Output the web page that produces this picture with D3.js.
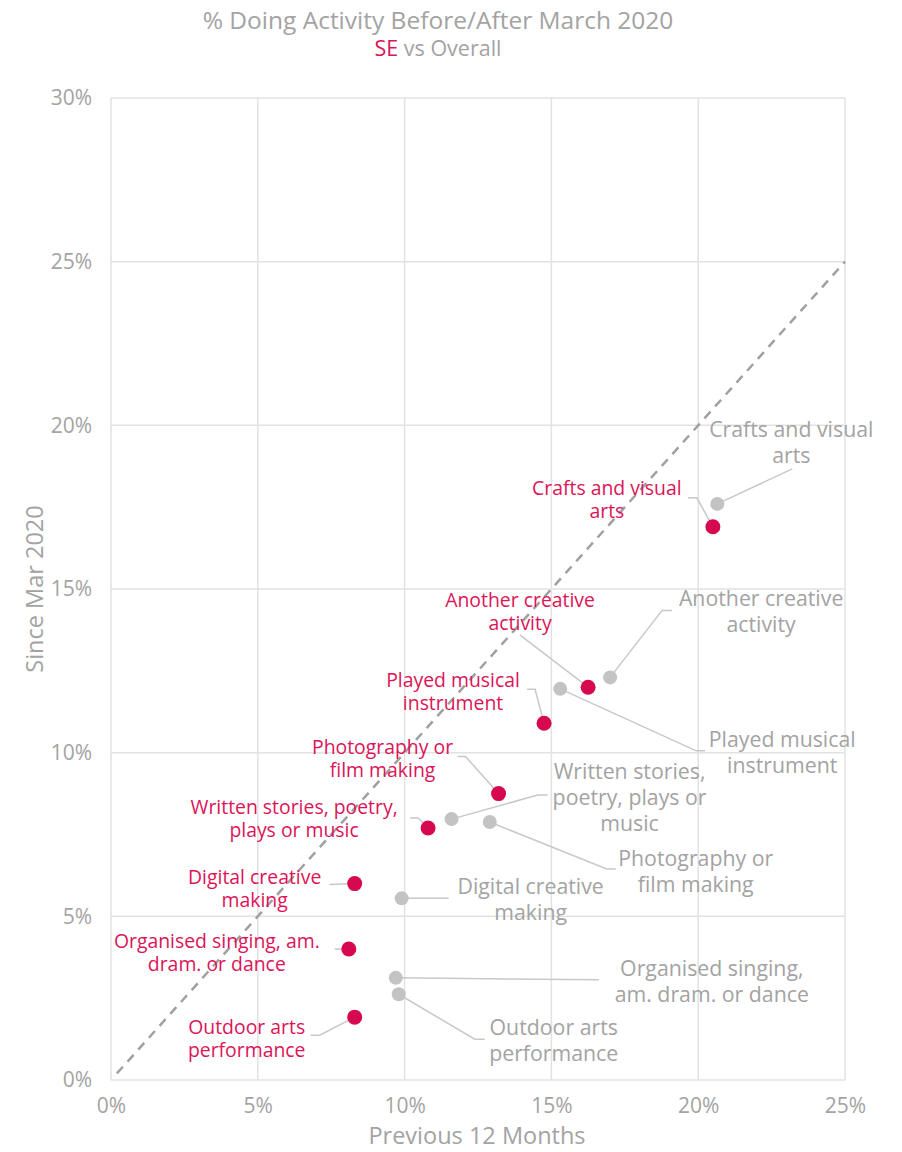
<!DOCTYPE html>
<html>
<head>
<meta charset="utf-8">
<script src="https://cdn.jsdelivr.net/npm/d3@7"></script>
<style>
  html, body { margin: 0; padding: 0; background: #fff; }
  svg { display: block; font-family: "Open Sans", sans-serif; }
</style>
</head>
<body>
<svg id="chart" width="902" height="1152"></svg>
<script>
// Activities (labels split into lines)
const activities = [
  "Crafts and visual arts",
  "Another creative activity",
  "Played musical instrument",
  "Photography or film making",
  "Written stories, poetry, plays or music",
  "Digital creative making",
  "Organised singing, am. dram. or dance",
  "Outdoor arts performance"
];
// SE: % previous 12 months, % since March 2020
const sePrev  = [20.5, 16.25, 14.75, 13.2, 10.8, 8.3, 8.1, 8.3];
const seSince = [16.9, 12.0, 10.9, 8.75, 7.7, 6.0, 4.0, 1.92];
// Overall
const allPrev  = [20.65, 17.0, 15.3, 11.6, 12.9, 9.9, 9.7, 9.8];
const allSince = [17.6, 12.3, 11.95, 7.97, 7.88, 5.55, 3.12, 2.62];

const seLines = [
  ["Crafts and visual", "arts"],
  ["Another creative", "activity"],
  ["Played musical", "instrument"],
  ["Photography or", "film making"],
  ["Written stories, poetry,", "plays or music"],
  ["Digital creative", "making"],
  ["Organised singing, am.", "dram. or dance"],
  ["Outdoor arts", "performance"]
];
const allLines = [
  ["Crafts and visual", "arts"],
  ["Another creative", "activity"],
  ["Played musical", "instrument"],
  ["Written stories,", "poetry, plays or", "music"],
  ["Photography or", "film making"],
  ["Digital creative", "making"],
  ["Organised singing,", "am. dram. or dance"],
  ["Outdoor arts", "performance"]
];

const xTicks = [0, 5, 10, 15, 20, 25];
const yTicks = [0, 5, 10, 15, 20, 25, 30];

// Label placement relative to each point (pixels): text centre, first-line middle, leader elbows
const seLayout = [
  {dx: -106, dy: -40, leader: [[-25, -29], [-16, -29]]},
  {dx: -68,  dy: -88, leader: [[-68, -52]]},
  {dx: -91,  dy: -44, leader: [[-17, -34], [-9, -34]]},
  {dx: -116, dy: -48, leader: [[-41, -37], [-33, -37]]},
  {dx: -134, dy: -22, leader: [[-18, -10], [-10, -10]]},
  {dx: -100, dy: -8,  leader: [[-25, 1]]},
  {dx: -132, dy: -9,  leader: [[-14, 0]]},
  {dx: -108, dy: 9,   leader: [[-44, 18], [-35, 18]]}
];
const allLayout = [
  {dx: 74,  dy: -76, leader: [[75, -35]]},
  {dx: 151, dy: -80, leader: [[62, -67], [52, -67]]},
  {dx: 222, dy: 49,  leader: [[145, 62], [136, 62]]},
  {dx: 178, dy: -49, leader: [[96, -24], [86, -24]]},
  {dx: 206, dy: 35,  leader: [[126, 47], [117, 47]]},
  {dx: 129, dy: -13, leader: [[47, 0]]},
  {dx: 316, dy: -11, leader: [[203, 2]]},
  {dx: 155, dy: 32,  leader: [[86, 45], [76, 45]]}
];

const RED = "#d6084f";
const RED_TEXT = "#dc1458";
const GREY_PT = "#c3c3c3";
const GREY_TEXT = "#a3a3a3";
const GRID = "#e2e2e2";

const svg = d3.select("#chart");
const plot = {left: 111, right: 845, top: 98, bottom: 1080};

const x = d3.scaleLinear().domain([0, 25]).range([plot.left, plot.right]);
const y = d3.scaleLinear().domain([0, 30]).range([plot.bottom, plot.top]);

// Gridlines
svg.append("g").selectAll("line").data(xTicks).join("line")
  .attr("x1", d => x(d)).attr("x2", d => x(d))
  .attr("y1", plot.top).attr("y2", plot.bottom)
  .attr("stroke", GRID).attr("stroke-width", 1.5);
svg.append("g").selectAll("line").data(yTicks).join("line")
  .attr("y1", d => y(d)).attr("y2", d => y(d))
  .attr("x1", plot.left).attr("x2", plot.right)
  .attr("stroke", GRID).attr("stroke-width", 1.5);

// Axes (labels only)
const xAxis = svg.append("g").attr("transform", `translate(0,${plot.bottom})`)
  .call(d3.axisBottom(x).tickValues(xTicks).tickFormat(d => d + "%").tickSize(0).tickPadding(18));
const yAxis = svg.append("g").attr("transform", `translate(${plot.left},0)`)
  .call(d3.axisLeft(y).tickValues(yTicks).tickFormat(d => d + "%").tickSize(0).tickPadding(19));
[xAxis, yAxis].forEach(a => {
  a.select(".domain").remove();
  a.selectAll("text").attr("fill", GREY_TEXT).attr("font-size", 21)
    .attr("font-family", "'Open Sans', sans-serif");
});

// Diagonal reference line y = x
svg.append("line")
  .attr("x1", x(0.2)).attr("y1", y(0.2))
  .attr("x2", x(25)).attr("y2", y(25))
  .attr("stroke", "#a0a0a0").attr("stroke-width", 2.5)
  .attr("stroke-dasharray", "9,7");

// Titles
svg.append("text").attr("x", 438).attr("y", 29).attr("text-anchor", "middle")
  .attr("font-size", 24.5).attr("fill", GREY_TEXT)
  .text("% Doing Activity Before/After March 2020");
const sub = svg.append("text").attr("x", 438).attr("y", 56).attr("text-anchor", "middle")
  .attr("font-size", 21.5).attr("fill", GREY_TEXT);
sub.append("tspan").attr("fill", RED_TEXT).text("SE");
sub.append("tspan").text(" vs Overall");

svg.append("text").attr("x", 477).attr("y", 1144).attr("text-anchor", "middle")
  .attr("font-size", 23.5).attr("fill", GREY_TEXT).text("Previous 12 Months");
svg.append("text").attr("transform", "translate(43,589) rotate(-90)")
  .attr("text-anchor", "middle").attr("font-size", 23.5).attr("fill", GREY_TEXT)
  .text("Since Mar 2020");

// Series drawing
function drawSeries(prev, since, lines, layout, txtColor, fontSize, lineH) {
  const data = activities.map((a, i) => ({
    name: a, px: x(prev[i]), py: y(since[i]), lines: lines[i], lay: layout[i]
  }));
  const g = svg.append("g");
  // Leader lines
  g.selectAll("path.leader").data(data).join("path")
    .attr("class", "leader")
    .attr("fill", "none").attr("stroke", "#c8c8c8").attr("stroke-width", 1.5)
    .attr("d", d => d3.line()([...d.lay.leader.map(p => [d.px + p[0], d.py + p[1]]), [d.px, d.py]]));
  // Labels
  g.selectAll("text.lbl").data(data).join("text")
    .attr("class", "lbl")
    .attr("text-anchor", "middle").attr("dominant-baseline", "central")
    .attr("font-size", fontSize).attr("fill", txtColor)
    .each(function(d) {
      const t = d3.select(this);
      d.lines.forEach((ln, k) => {
        t.append("tspan").attr("x", d.px + d.lay.dx).attr("y", d.py + d.lay.dy + k * lineH).text(ln);
      });
    });
}

drawSeries(allPrev, allSince, allLines, allLayout, GREY_TEXT, 21.3, 26);
drawSeries(sePrev, seSince, seLines, seLayout, RED_TEXT, 19.4, 23);

// Points on top
svg.append("g").selectAll("circle").data(activities.map((a, i) => [allPrev[i], allSince[i]])).join("circle")
  .attr("cx", d => x(d[0])).attr("cy", d => y(d[1])).attr("r", 7).attr("fill", GREY_PT);
svg.append("g").selectAll("circle").data(activities.map((a, i) => [sePrev[i], seSince[i]])).join("circle")
  .attr("cx", d => x(d[0])).attr("cy", d => y(d[1])).attr("r", 7.5).attr("fill", RED);
</script>
</body>
</html>
